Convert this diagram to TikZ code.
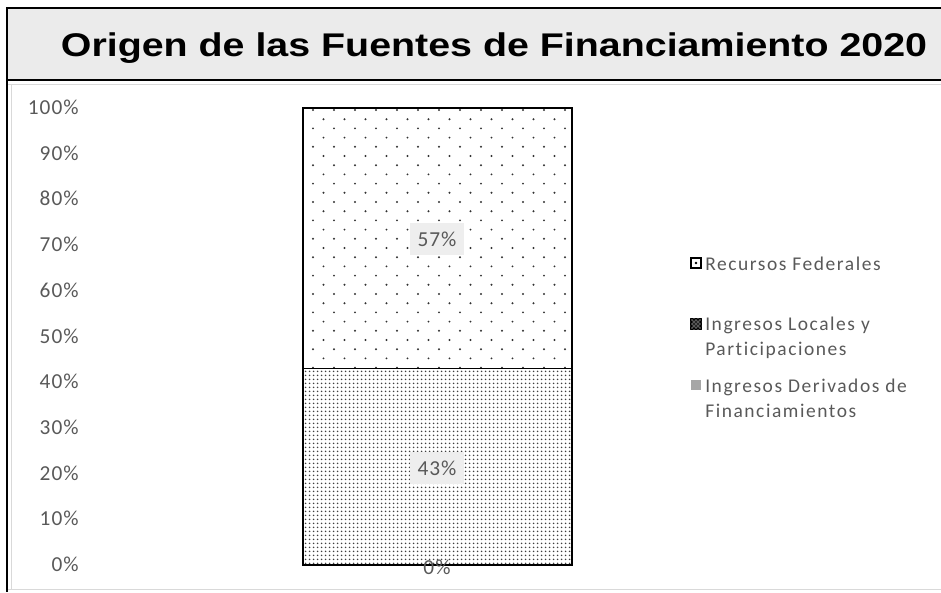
\documentclass[tikz,border=0pt]{standalone}
\usepackage{fontspec}
\setmainfont{Carlito}
\newfontfamily\titlefont[FakeStretch=1.2]{Liberation Sans}
\newfontfamily\lblfont[LetterSpace=5, Ligatures={NoCommon}]{Carlito}
\newfontfamily\legfont[LetterSpace=8, Ligatures={NoCommon}]{Carlito}
\usetikzlibrary{patterns}
\definecolor{txtgray}{RGB}{89,89,89}
\definecolor{bargray}{RGB}{166,166,166}
\definecolor{titlebg}{RGB}{235,235,235}
\definecolor{lblbg}{RGB}{238,238,238}
\definecolor{framegray}{RGB}{217,217,217}
\definecolor{dotgray}{RGB}{50,50,50}
\pgfdeclarepatternformonly{densedots}{\pgfpointorigin}{\pgfpoint{3pt}{3pt}}{\pgfpoint{3pt}{3pt}}{%
  \pgfpathcircle{\pgfpoint{1.5pt}{1.5pt}}{0.8pt}\pgfusepath{fill}}
\tikzset{
  titlebar/.style={fill=titlebg, draw=black, line width=1.5pt},
  titletext/.style={anchor=base, inner sep=0pt, font=\titlefont\bfseries\fontsize{24.6}{28}\selectfont},
  axislbl/.style={anchor=base east, inner sep=0pt, text=txtgray, font=\lblfont\fontsize{16}{18}\selectfont},
  datalbl/.style={fill=lblbg, text=txtgray, inner sep=0pt, minimum width=41pt, minimum height=24pt, font=\lblfont\fontsize{16}{18}\selectfont},
  barline/.style={draw=black, line width=1.2pt},
  legkey/.style={draw=black, line width=1pt, inner sep=0pt, minimum size=7.5pt},
  legtext/.style={anchor=west, inner sep=0pt, text=txtgray, align=left, font=\legfont\fontsize{14.6}{18.75}\selectfont}
}

\begin{document}
\begin{tikzpicture}[x=0.75pt, y=-0.75pt]
        \useasboundingbox (0, 0) rectangle (941, 592);

        % frame and title
        \draw[framegray] (8, 84) -- (941, 84);
        \draw[framegray] (8, 589) -- (941, 589);
        \draw[framegray] (11, 84) -- (11, 589);
        \draw[line width=1.5pt] (7, 80) -- (7, 592);
        \draw[titlebar] (7, 8) rectangle (950, 80);
        \draw (494, 57) node(title)[titletext]{Origen de las Fuentes de Financiamiento 2020};

        % value axis
        \foreach \p [evaluate=\p as \v using int(\p*10)] in {0,...,10}
            \draw (79, {571.5 - \p*45.7}) node(y\p)[axislbl]{\v\%};

        % lower part of the bar
        \fill[white] (303, 368.5) rectangle (572, 565);
        \fill[pattern=densedots, pattern color=black!75] (303, 368.5) rectangle (572, 565);

        % upper part of the bar
        \begin{scope}
            \clip (303, 108) rectangle (572, 368.5);
            \foreach \r in {0,...,28}
                \foreach \c in {0,...,13}
                    \fill[dotgray] ({313 - 10.5*mod(\r,2) + 21*\c}, {110 + 9.2*\r}) circle (0.8pt);
        \end{scope}

        \draw[barline] (303, 108) rectangle (572, 565);
        \draw[barline] (303, 368.5) -- (572, 368.5);

        % data labels
        \draw (437, 239) node(v57)[datalbl]{57\%};
        \draw (437, 468) node(v43)[datalbl]{43\%};
        \draw (437, 567) node(v0)[datalbl, fill=none]{0\%};

        % legend
        \draw (696, 263) node(k1)[legkey, fill=white]{};
        \fill (k1.center) circle (1pt);
        \draw (705, 264) node(l1)[legtext]{Recursos Federales};
        \draw (696, 324) node(k2)[legkey, fill=black!85]{};
        \fill[pattern=crosshatch dots, pattern color=white] (k2.south west) rectangle (k2.north east);
        \draw (705, 338) node(l2)[legtext]{Ingresos Locales y\\Participaciones};
        \draw (696, 385) node(k3)[legkey, draw=none, fill=bargray]{};
        \draw (705, 398) node(l3)[legtext]{Ingresos Derivados de\\Financiamientos};
    \end{tikzpicture}
\end{document}
